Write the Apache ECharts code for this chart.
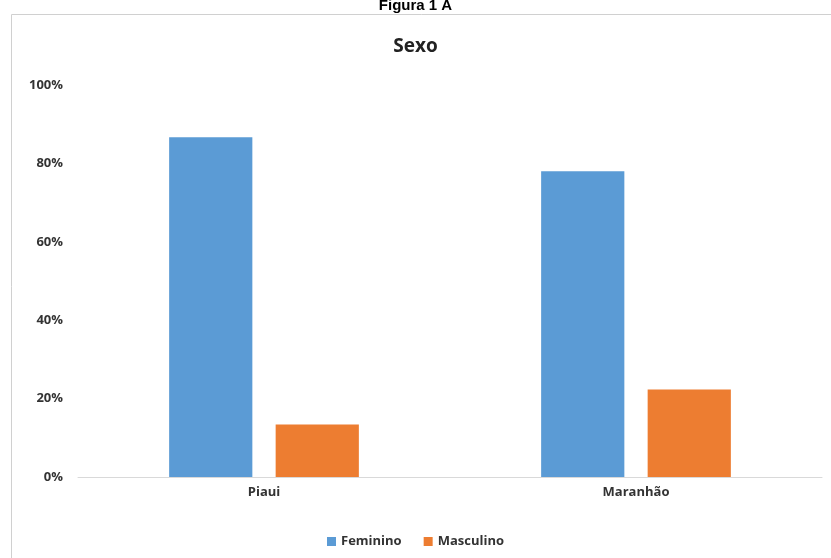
<!DOCTYPE html>
<html>
<head>
<meta charset="utf-8">
<script src="https://cdn.jsdelivr.net/npm/echarts@6/dist/echarts.min.js"></script>
<style>
    html, body { margin: 0; padding: 0; background: #fff; }
    #chart { width: 831px; height: 558px; }
</style>
</head>
<body>
<div id="chart"></div>
<script>
var categories = ['Piaui', 'Maranhão'];
var feminino = [86.7, 78.0];
var masculino = [13.4, 22.3];
var yTicks = [0, 20, 40, 60, 80, 100];

var chart = echarts.init(document.getElementById('chart'));

var option = {
    color: ['#5b9bd5', '#ed7d31'],
    animation: false,
    graphic: [{
        type: 'rect',
        left: 9,
        top: 12,
        shape: { width: 840, height: 560 },
        style: { fill: 'none', stroke: '#d0d0d0', lineWidth: 1 },
        z: -1
    }],
    title: [{
        text: 'Figura 1 A',
        left: 'center',
        top: -7,
        textStyle: {
            fontFamily: 'Liberation Sans',
            fontWeight: 'bold',
            fontSize: 15,
            color: '#000'
        }
    }, {
        text: 'Sexo',
        left: 'center',
        top: 32,
        textStyle: {
            fontFamily: 'Open Sans',
            fontWeight: 'bold',
            fontSize: 19,
            color: '#222'
        }
    }],
    legend: {
        bottom: 5,
        left: 'center',
        itemWidth: 9,
        itemHeight: 9,
        itemGap: 22,
        icon: 'rect',
        textStyle: {
            fontFamily: 'Open Sans',
            fontWeight: 'bold',
            fontSize: 13,
            color: '#333'
        },
        data: ['Feminino', 'Masculino']
    },
    grid: {
        left: 78,
        right: 9,
        top: 85,
        bottom: 81,
        containLabel: false
    },
    xAxis: {
        type: 'category',
        data: categories,
        axisLine: { lineStyle: { color: '#d9d9d9' } },
        axisTick: { show: false },
        axisLabel: {
            margin: 9,
            fontFamily: 'Open Sans',
            fontWeight: 'bold',
            fontSize: 13,
            color: '#333'
        }
    },
    yAxis: {
        type: 'value',
        min: yTicks[0],
        max: yTicks[yTicks.length - 1],
        interval: 20,
        splitLine: { show: false },
        axisLine: { show: false },
        axisTick: { show: false },
        axisLabel: {
            margin: 15,
            fontFamily: 'Open Sans',
            fontWeight: 'bold',
            fontSize: 13,
            color: '#333',
            formatter: function (val) {
                return val + '%';
            }
        }
    },
    series: [{
        name: 'Feminino',
        type: 'bar',
        data: feminino,
        barGap: '28%',
        barCategoryGap: '49%'
    }, {
        name: 'Masculino',
        type: 'bar',
        data: masculino
    }]
};
chart.setOption(option);
</script>
</body>
</html>
